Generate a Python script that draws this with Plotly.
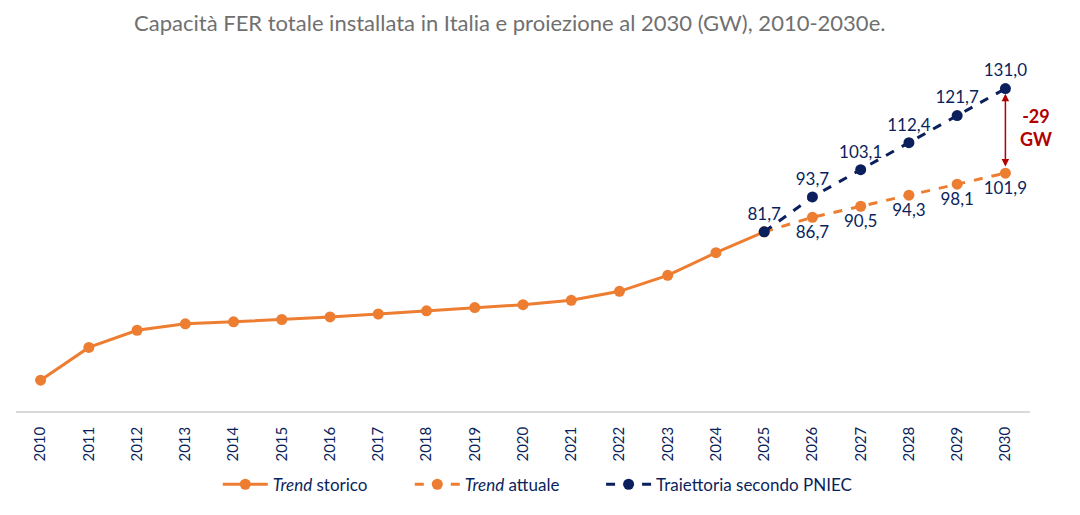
import plotly.graph_objects as go

years_hist = list(range(2010, 2026))
hist_values = [30.6, 41.9, 47.8, 50.0, 50.7, 51.5, 52.4, 53.4, 54.5, 55.6, 56.6, 58.1, 61.2, 66.7, 74.5, 81.7]

years_proj = list(range(2025, 2031))
trend_values = [81.7, 86.7, 90.5, 94.3, 98.1, 101.9]
pniec_values = [81.7, 93.7, 103.1, 112.4, 121.7, 131.0]

tick_years = list(range(2010, 2031))

ORANGE = "#ED7D31"
NAVY = "#0B1F5C"
RED = "#B00000"
FONT = "Lato"

def fmt(v):
    return f"{v:.1f}".replace(".", ",")

trend_text = [""] + [fmt(v) for v in trend_values[1:]]
pniec_text = [fmt(v) for v in pniec_values]

fig = go.Figure()
fig.add_trace(go.Scatter(
    x=years_hist, y=hist_values, mode="lines+markers",
    name="<i>Trend</i> storico",
    line=dict(color=ORANGE, width=3),
    marker=dict(color=ORANGE, size=11),
    legend="legend",
))
fig.add_trace(go.Scatter(
    x=years_proj, y=trend_values, mode="lines+markers+text",
    name="<i>Trend</i> attuale",
    line=dict(color=ORANGE, width=3, dash="dash"),
    marker=dict(color=ORANGE, size=11),
    text=trend_text, textposition="bottom center",
    textfont=dict(color=NAVY, size=17, family=FONT),
    cliponaxis=False,
    legend="legend",
))
fig.add_trace(go.Scatter(
    x=years_proj, y=pniec_values, mode="lines+markers+text",
    name="Traiettoria secondo PNIEC",
    line=dict(color=NAVY, width=3, dash="dash"),
    marker=dict(color=NAVY, size=11),
    text=pniec_text, textposition="top center",
    textfont=dict(color=NAVY, size=17, family=FONT),
    cliponaxis=False,
    legend="legend2",
))

# gap arrow between the two 2030 values
fig.add_annotation(
    x=2030, y=pniec_values[-1] - 1.8, ax=2030, ay=trend_values[-1] + 1.8,
    xref="x", yref="y", axref="x", ayref="y",
    text="", showarrow=True, arrowhead=2, arrowside="end+start",
    arrowsize=1, arrowwidth=1.5, arrowcolor=RED,
)
gap = round(pniec_values[-1] - trend_values[-1])
fig.add_annotation(
    x=2030, y=(pniec_values[-1] + trend_values[-1]) / 2 + 1.0,
    xref="x", yref="y", xshift=31,
    text=f"<b>-{gap}<br>GW</b>", showarrow=False,
    font=dict(color=RED, size=18, family=FONT),
    align="center",
)

legend_common = dict(
    orientation="h", y=-0.21, yanchor="middle", xanchor="left",
    font=dict(size=17, color=NAVY, family=FONT),
    itemwidth=45, tracegroupgap=0, bgcolor="rgba(0,0,0,0)",
)

fig.update_layout(
    width=1080, height=515,
    margin=dict(l=16, r=50, t=60, b=102),
    paper_bgcolor="white", plot_bgcolor="white",
    font=dict(family=FONT, color=NAVY),
    title=dict(
        text="Capacità FER totale installata in Italia e proiezione al 2030 (GW), 2010-2030e.",
        x=0.472, xanchor="center", y=0.955, yanchor="middle",
        font=dict(color="#707070", size=22, family=FONT),
    ),
    showlegend=True,
    legend=dict(x=0.199, entrywidth=132, entrywidthmode="pixels", **legend_common),
    legend2=dict(x=0.577, **legend_common),
    xaxis=dict(
        range=[2009.49, 2030.51],
        tickmode="array", tickvals=tick_years, ticktext=[str(y) for y in tick_years],
        tickangle=-90, tickfont=dict(size=15, color=NAVY, family=FONT),
        showgrid=False, zeroline=False,
        showline=True, linecolor="#D9D9D9", linewidth=1.5,
        ticks="", ticklabelstandoff=8,
    ),
    yaxis=dict(
        range=[20, 140.85], visible=False, showgrid=False, zeroline=False,
    ),
)

fig.write_html("out.html")
